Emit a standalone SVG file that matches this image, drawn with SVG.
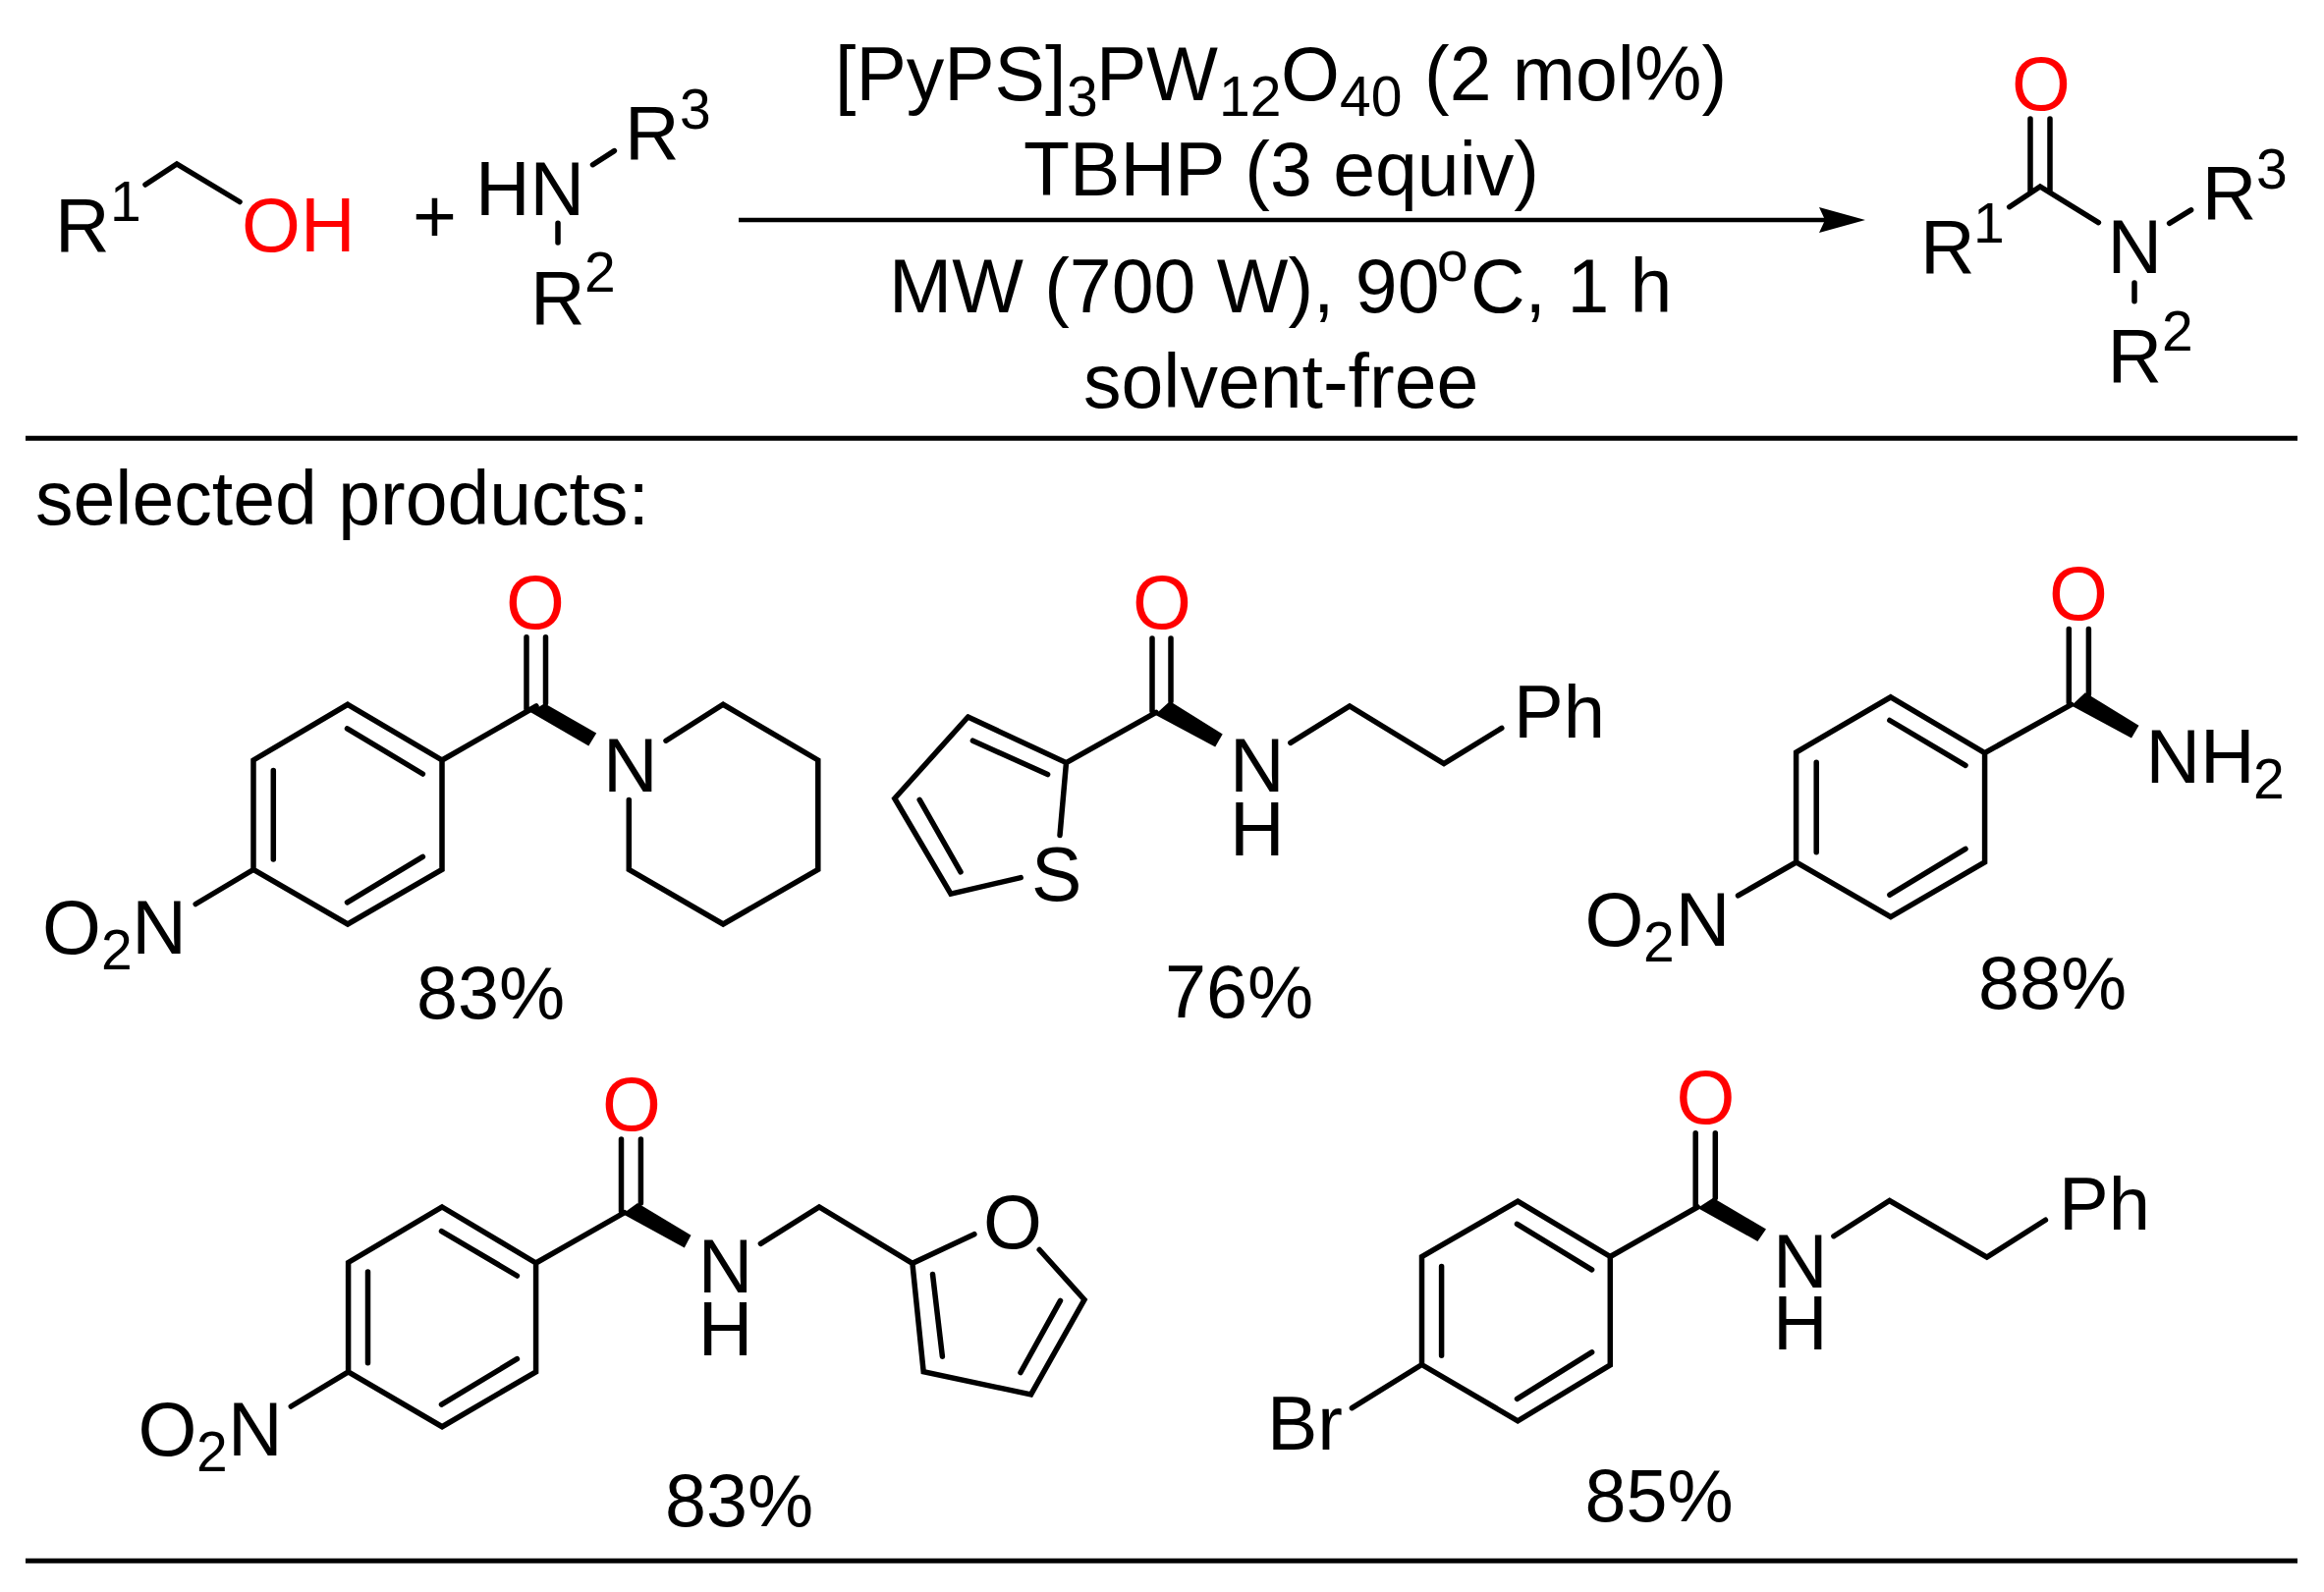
<svg xmlns="http://www.w3.org/2000/svg" width="2366" height="1621" viewBox="0 0 2366 1621">
<style>
text{font-family:"Liberation Sans",Arial,sans-serif;fill:#000;font-size:77px}
.s{font-size:57px}
.y{font-size:75.5px}
.p{font-size:76px}
.r{fill:#f00}
.b{fill:none;stroke:#000;stroke-width:5.5;stroke-linecap:round;stroke-linejoin:miter}
.w{fill:#000;stroke:none}
</style>
<rect width="2366" height="1621" fill="#fff"/>
<g id="connectors">
<path d="M752 224H1880" stroke="#000" stroke-width="4.5" fill="none"/>
<path d="M1852 211L1899 224L1852 237L1858 224Z" fill="#000"/>
<path d="M26 446.3H2339M26 1589.3H2339" stroke="#000" stroke-width="5" fill="none"/>
</g>
<g id="alcohol">
<path class="b" d="M148 188L180 167L244 205.5"/>
<text x="56" y="255.5">R</text><text class="s" x="112" y="224.5">1</text>
<text class="r" x="246" y="255.5">OH</text>
</g>
<g id="plus"><text x="420" y="247">+</text></g>
<g id="amine">
<path class="b" d="M603.5 167.7L625.4 153.6M568 227.3V247"/>
<text x="484" y="218.7">HN</text>
<text x="636" y="162">R</text><text class="s" x="692" y="131">3</text>
<text x="540" y="329.5">R</text><text class="s" x="595" y="297">2</text>
</g>
<g id="conditions">
<text x="850" y="101.6">[PyPS]</text><text class="s" x="1086" y="117.7">3</text>
<text x="1116" y="101.6">PW</text><text class="s" x="1241" y="117.7">12</text>
<text x="1304" y="101.6">O</text><text class="s" x="1364" y="117.7">40</text>
<text x="1450" y="101.6">(2 mol%)</text>
<text x="1042" y="199.4">TBHP (3 equiv)</text>
<text x="905" y="317.5">MW (700 W), 90</text><text class="s" x="1463" y="286">o</text><text x="1497" y="317.5">C, 1 h</text>
<text x="1103" y="415">solvent-free</text>
</g>
<g id="product">
<path class="b" d="M2067 121V196M2087 121V196M2045.7 210.7L2077 190L2136.4 226.6M2208.6 227.3L2230.6 213.8M2173 287.9V306.8"/>
<text class="r" x="2048" y="112">O</text>
<text x="1955" y="278">R</text><text class="s" x="2009" y="247.3">1</text>
<text x="2145.4" y="278">N</text>
<text x="2241.7" y="223">R</text><text class="s" x="2297" y="191.5">3</text>
<text x="2145.4" y="389">R</text><text class="s" x="2201" y="357.4">2</text>
</g>
<text id="selected-products" x="36" y="534">selected products:</text>
<g id="compound-1">
<path class="b" d="M354 717.3L450 774V885.4L354 941L258 885.4V774ZM353.5 741.8L430.4 788M430.4 872.3L353.5 918.8M278.3 784.5V875M258 885.4L199.2 920.5M450 774L546 719M536 648.8V722M555.5 648.8V716"/>
<path class="w" d="M554.4 716.3L607.2 746.6L599.3 759.4L539.8 724.9Z"/>
<path class="b" d="M678 754.2L736.2 717.3L832.8 774V885.4L736.2 941L640.3 885.4V814.4"/>
<text class="r" x="515" y="639.5">O</text>
<text x="614" y="805.5">N</text>
<text x="43" y="971">O</text><text class="s" x="103" y="987">2</text><text x="134.3" y="971">N</text>
<text class="y" x="424" y="1037">83%</text>
</g>
<g id="compound-2">
<path class="b" d="M985.5 730L1085.5 776.6L1079 850.6M985.5 730L910.8 813L968 910.2L1039.2 893.6M990.4 754.2L1066.6 788.6M936.2 814.4L978 887.8M1085.5 776.6L1177 725.3M1173 650V724M1192 650V714"/>
<path class="w" d="M1191 714L1244.7 747.6L1237.2 760.4L1176 727.7Z"/>
<path class="b" d="M1313.8 756.3L1374 719L1470 777.6L1528.8 741.4"/>
<text class="r" x="1153" y="640">O</text>
<text x="1050" y="916.7">S</text>
<text x="1252" y="806.2">N</text><text x="1252" y="871.3">H</text>
<text class="p" x="1541" y="750.7">Ph</text>
<text class="y" x="1186" y="1036">76%</text>
</g>
<g id="compound-3">
<path class="b" d="M1924.9 709.8L2020.6 766.6V878L1924.9 933.6L1828.6 878V766ZM1923.9 733.5L2001 779.3M2001 864.4L1923.9 911.2M1849.2 776.2V867.8M1828.6 878L1769.5 911.9M2020.6 766.6L2108.8 717.3M2106.3 640.5V715.6M2126.4 640.5V707"/>
<path class="w" d="M2122.9 705.3L2177.5 738.7L2170 751.4L2108.8 718.4Z"/>
<text class="r" x="2086" y="631">O</text>
<text x="2184.5" y="796.9">NH</text><text class="s" x="2294" y="813">2</text>
<text x="1613.6" y="962.9">O</text><text class="s" x="1673" y="979">2</text><text x="1705.8" y="962.9">N</text>
<text class="y" x="2014" y="1026.6">88%</text>
</g>
<g id="compound-4">
<path class="b" d="M450.1 1229L545.6 1286V1396.8L450.1 1452.7L354.6 1396.8V1285.5ZM449.5 1253.6L526.4 1299M526.4 1383.7L449.5 1430.2M374.5 1295V1387.8M354.6 1396.8L296.3 1432M545.6 1286L635.8 1234.6M632.5 1160V1233.6M652.4 1160V1225"/>
<path class="w" d="M649 1225L703.5 1257.7L696.8 1270.5L633.8 1236Z"/>
<path class="b" d="M774.4 1266.3L834 1229L928.9 1286.3L991.9 1256.7M928.9 1286.3L940.2 1396.8L1049.6 1419.9L1104 1323.3L1058.2 1272.5M949.5 1297.4L959.4 1381.2M1079.5 1324.3L1039 1397.5"/>
<text class="r" x="613" y="1150.5">O</text>
<text x="710.7" y="1316.4">N</text><text x="710.7" y="1380.2">H</text>
<text x="1001" y="1270.7">O</text>
<text x="140.4" y="1482">O</text><text class="s" x="200" y="1498">2</text><text x="232" y="1482">N</text>
<text class="y" x="677" y="1553.8">83%</text>
</g>
<g id="compound-5">
<path class="b" d="M1545.2 1223.2L1639.3 1279.5V1389.9L1545.2 1446.8L1447.5 1389.5V1279.5ZM1544.5 1246.3L1620.6 1292.9M1620.6 1376.8L1544.5 1424.4M1467.6 1289.5V1380.2M1447.5 1389.5L1376.4 1433.7M1639.3 1279.5L1728.3 1229M1726.2 1153.8V1228M1746.3 1153.8V1219.8"/>
<path class="w" d="M1744.1 1219.8L1798 1251.5L1789.4 1263.9L1728.3 1230Z"/>
<path class="b" d="M1866.9 1258.7L1923.7 1222.5L2022.8 1280.1L2082.4 1242.2"/>
<text class="r" x="1706.5" y="1144">O</text>
<text x="1805" y="1310.5">N</text><text x="1805" y="1374.3">H</text>
<text class="p" x="2096" y="1251.5">Ph</text>
<text x="1290" y="1476">Br</text>
<text class="y" x="1613.5" y="1549.3">85%</text>
</g>
</svg>
